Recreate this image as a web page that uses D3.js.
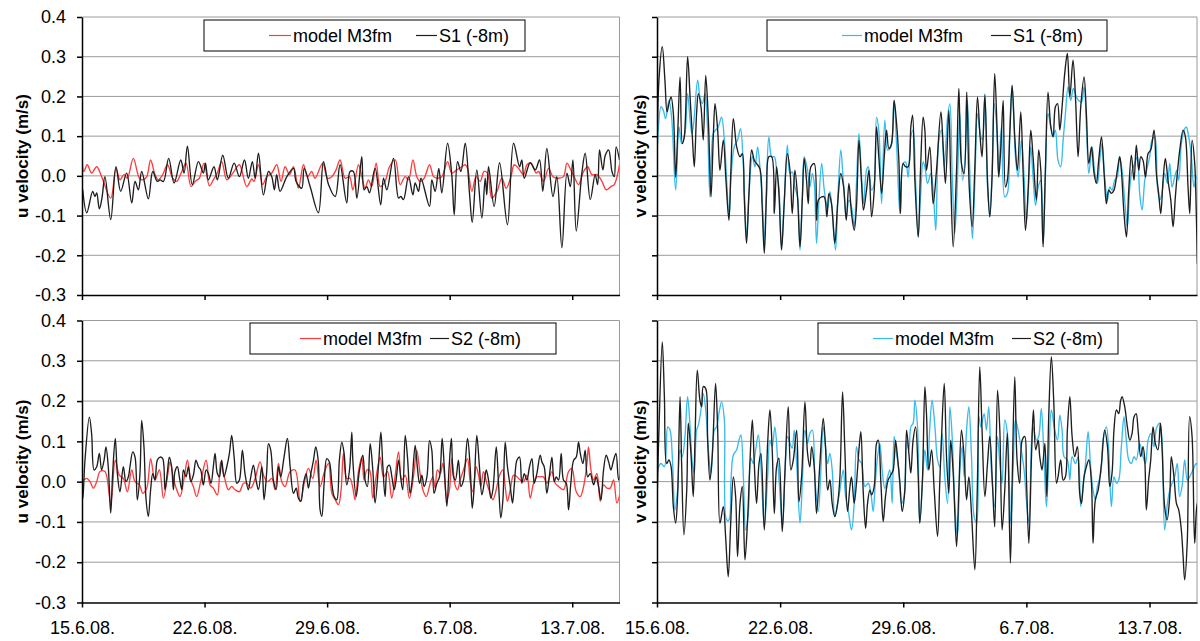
<!DOCTYPE html>
<html>
<head>
<meta charset="utf-8">
<script src="https://cdn.jsdelivr.net/npm/d3@7"></script>
<style>
  body { margin: 0; background: #fff; }
  svg { display: block; font-family: "Liberation Sans", Arial, sans-serif; }
  .grid line { stroke: #9a9a9a; stroke-width: 1; }
  .border { stroke: #9a9a9a; stroke-width: 1; fill: none; }
  .axis path, .axis line { stroke: #000; stroke-width: 1.5; }
  .axis text { font-size: 18px; fill: #000; font-family: "Liberation Sans", Arial, sans-serif; }
  .ytitle { font-size: 17px; font-weight: bold; }
  .legend text { font-size: 18px; }
  .series { fill: none; stroke-width: 1.35; stroke-linejoin: round; }
</style>
</head>
<body>
<svg id="chart" width="1200" height="641"></svg>
<script>
// time axis: days since 15.6.2008 00:00
const startDate = new Date(Date.UTC(2008, 5, 15));
const spanDays = 30.7;
const dateTicks = ["2008-06-15", "2008-06-22", "2008-06-29", "2008-07-06", "2008-07-13"];
const yTicks = [-0.3, -0.2, -0.1, 0.0, 0.1, 0.2, 0.3, 0.4];

// [day, m/s] readings
const u1Model = [[0,0.04],[0.11,0.011],[0.30,0.028],[0.55,0.007],[0.84,0.023],[1.12,-0.002],[1.64,-0.056],[1.94,0.019],[2.17,-0.01],[2.40,0.003],[2.59,-0.006],[2.93,0.044],[3.28,-0.006],[3.50,-0.01],[3.70,-0.002],[3.92,0.04],[4.17,0.003],[4.36,-0.01],[4.61,0.003],[4.88,0.028],[5.18,-0.006],[5.41,-0.014],[5.66,0.007],[5.94,0.032],[6.23,-0.027],[6.46,-0.014],[6.70,-0.006],[6.97,0.032],[7.28,-0.025],[7.50,-0.01],[7.73,0.007],[7.98,0.036],[8.27,-0.01],[8.55,0.003],[8.74,0.015],[8.99,0.028],[9.41,-0.027],[9.70,-0.008],[9.83,-0.014],[10.08,0.028],[10.32,-0.022],[10.55,-0.002],[10.84,0.007],[11.12,0.028],[11.37,-0.014],[11.60,0.023],[11.85,0.003],[12.08,0.023],[12.36,-0.031],[12.65,0.028],[12.88,-0.002],[13.12,0.011],[13.31,-0.006],[13.75,0.032],[14.02,-0.006],[14.27,-0.002],[14.51,0.015],[14.74,0.04],[15.03,-0.006],[15.28,-0.002],[15.47,-0.035],[15.79,0.028],[15.98,-0.002],[16.17,-0.031],[16.36,-0.01],[16.55,-0.027],[16.80,0.032],[17.03,-0.027],[17.31,-0.014],[17.56,0.023],[17.89,0.04],[18.17,-0.022],[18.46,-0.002],[18.65,-0.01],[18.90,0.04],[19.12,-0.002],[19.31,-0.014],[19.54,-0.006],[19.85,0.028],[20.08,-0.002],[20.30,-0.006],[20.55,-0.002],[20.88,0.036],[21.12,0.007],[21.41,0.015],[21.70,0.023],[21.89,0.028],[22.02,0.019],[22.27,-0.039],[22.51,-0.002],[22.74,-0.014],[22.97,0.011],[23.16,0.007],[23.41,-0.056],[23.70,-0.039],[23.98,-0.006],[24.23,-0.031],[24.50,-0.002],[24.69,0.028],[24.93,0.019],[25.22,0.003],[25.41,0.028],[25.64,0.032],[25.94,0.007],[26.08,0.011],[26.36,-0.014],[26.65,0.019],[26.90,-0.002],[27.22,-0.006],[27.50,-0.002],[27.70,0.032],[27.92,0.015],[28.11,-0.002],[28.36,-0.022],[28.65,0.011],[28.88,0.023],[29.12,0.003],[29.41,0.003],[29.70,-0.014],[29.94,-0.035],[30.21,-0.027],[30.40,-0.022],[30.70,0.028]];

const u1Obs = [[0.04,-0.035],[0.27,-0.093],[0.61,-0.039],[0.74,-0.052],[0.84,-0.043],[0.99,-0.083],[1.14,-0.056],[1.31,-0.002],[1.64,-0.11],[1.94,0.023],[2.21,-0.039],[2.55,0.007],[2.84,-0.068],[3.03,-0.014],[3.22,-0.035],[3.41,0.011],[3.79,-0.058],[4.04,0.011],[4.30,-0.014],[4.46,-0.01],[4.65,-0.014],[4.95,0.044],[5.26,-0.018],[5.64,0.04],[5.83,0.007],[6.02,0.075],[6.30,-0.022],[6.65,0.036],[6.93,0.007],[7.05,0.032],[7.22,-0.01],[7.54,0.023],[7.73,-0.01],[8.04,0.052],[8.36,-0.006],[8.69,0.032],[8.99,-0.002],[9.28,0.04],[9.50,-0.006],[9.73,0.036],[9.89,-0.006],[10.08,0.057],[10.36,-0.048],[10.65,0.011],[10.84,-0.002],[10.99,-0.035],[11.12,0.003],[11.31,-0.039],[11.70,-0.002],[12.08,0.019],[12.23,-0.014],[12.55,-0.031],[12.69,0.019],[13.03,-0.027],[13.50,-0.093],[13.79,0.036],[14.08,-0.022],[14.46,-0.052],[14.74,0.028],[15.12,-0.068],[15.31,0.011],[15.50,0.011],[15.70,-0.056],[15.98,0.048],[16.11,-0.035],[16.27,-0.027],[16.42,-0.043],[16.74,0.019],[17.06,-0.073],[17.22,-0.006],[17.41,-0.035],[17.79,0.044],[18.08,-0.056],[18.21,-0.052],[18.36,-0.06],[18.65,-0.002],[18.90,-0.048],[19.03,-0.018],[19.22,-0.039],[19.36,-0.006],[19.85,-0.077],[19.98,-0.01],[20.17,-0.039],[20.38,0.019],[20.55,-0.043],[20.88,0.082],[21.12,0.003],[21.26,-0.098],[21.45,0.036],[21.64,0.011],[21.89,0.082],[22.13,-0.043],[22.29,-0.117],[22.55,0.015],[22.84,-0.106],[23.03,-0.006],[23.12,-0.048],[23.22,0.023],[23.54,-0.077],[23.85,0.033],[24.30,-0.123],[24.65,0.082],[24.99,0.023],[25.12,0.04],[25.26,-0.006],[25.60,0.033],[25.89,0.015],[26.13,0.04],[26.32,-0.039],[26.55,0.069],[26.90,-0.052],[27.12,-0.002],[27.41,-0.181],[27.70,0.007],[27.89,-0.027],[28.04,0.04],[28.23,-0.139],[28.55,0.007],[28.74,0.057],[29.03,-0.06],[29.31,0.003],[29.45,-0.022],[29.56,0.065],[29.75,0.015],[29.89,0.052],[30.08,0.065],[30.27,0.011],[30.40,-0.002],[30.51,0.073],[30.70,0.04]];

const v1Model = [[0,0.031],[0.04,0.09],[0.23,0.174],[0.36,0.165],[0.49,0.144],[0.68,0.19],[0.83,0.148],[1.06,-0.036],[1.25,0.123],[1.40,0.081],[1.59,0.107],[1.74,0.207],[1.97,0.107],[2.06,0.123],[2.31,0.241],[2.44,0.199],[2.58,0.182],[2.73,0.207],[2.88,0.115],[3.01,-0.053],[3.20,0.107],[3.33,0.115],[3.48,0.123],[3.67,0.148],[3.83,0.09],[3.96,-0.011],[4.09,-0.103],[4.20,-0.011],[4.39,0.073],[4.58,0.09],[4.75,0.119],[4.91,0.023],[5.09,-0.154],[5.23,-0.044],[5.42,0.048],[5.57,0.023],[5.72,0.073],[5.85,0.023],[5.98,-0.061],[6.10,-0.17],[6.23,-0.011],[6.36,0.098],[6.52,0.048],[6.67,0.048],[6.80,0.014],[6.93,-0.028],[7.08,-0.179],[7.23,-0.07],[7.41,0.077],[7.56,0.006],[7.69,0.01],[7.84,-0.028],[7.99,-0.053],[8.13,-0.187],[8.26,-0.053],[8.37,0.048],[8.56,0.014],[8.69,-0.028],[8.83,0.006],[8.94,-0.019],[9.07,-0.17],[9.17,-0.095],[9.36,0.031],[9.51,-0.036],[9.70,-0.082],[9.83,-0.04],[9.96,-0.086],[10.15,-0.187],[10.30,-0.036],[10.45,0.065],[10.59,-0.011],[10.76,-0.103],[10.91,-0.061],[11.06,-0.078],[11.21,-0.128],[11.34,-0.019],[11.48,0.107],[11.63,-0.003],[11.74,-0.07],[11.91,0.014],[12.01,0.023],[12.20,-0.036],[12.35,-0.019],[12.48,0.148],[12.61,0.115],[12.77,-0.07],[12.95,0.14],[13.11,0.065],[13.30,0.073],[13.48,0.19],[13.62,0.081],[13.81,-0.095],[13.99,0.031],[14.13,0.035],[14.28,-0.003],[14.43,0.098],[14.56,0.115],[14.70,-0.011],[14.85,-0.154],[14.98,-0.053],[15.13,0.035],[15.23,0.023],[15.38,-0.019],[15.57,0.006],[15.70,-0.036],[15.85,-0.137],[16.02,0.09],[16.17,0.115],[16.33,0.023],[16.52,0.148],[16.65,0.182],[16.78,0.006],[16.93,-0.145],[17.08,-0.011],[17.22,0.157],[17.37,-0.011],[17.50,0.031],[17.65,0.19],[17.78,0.014],[17.93,-0.158],[18.07,-0.019],[18.22,0.157],[18.37,0.107],[18.50,0.09],[18.64,0.207],[18.79,-0.028],[18.92,-0.103],[19.05,0.014],[19.17,0.182],[19.30,0.132],[19.43,0.006],[19.58,0.123],[19.77,-0.053],[19.92,-0.044],[20.06,0.123],[20.19,0.228],[20.38,0.048],[20.53,-0.003],[20.72,0.09],[20.87,-0.003],[21.00,-0.12],[21.14,-0.011],[21.25,0.073],[21.38,-0.003],[21.52,-0.074],[21.67,-0.028],[21.82,-0.011],[21.95,-0.17],[22.08,-0.003],[22.23,0.157],[22.39,0.123],[22.52,0.098],[22.65,0.115],[22.80,0.039],[22.95,0.023],[23.09,0.09],[23.22,0.157],[23.37,0.224],[23.52,0.19],[23.67,0.22],[23.84,0.199],[23.97,0.19],[24.13,0.186],[24.28,0.224],[24.43,0.107],[24.55,0.006],[24.74,0.073],[24.89,0.006],[25.04,-0.019],[25.17,0.039],[25.30,0.081],[25.45,-0.003],[25.61,-0.061],[25.74,-0.028],[25.87,-0.036],[26.02,-0.011],[26.17,-0.003],[26.29,0.048],[26.44,0.014],[26.59,-0.061],[26.74,-0.128],[26.88,-0.028],[27.01,0.014],[27.16,0.031],[27.31,0.048],[27.44,-0.044],[27.58,-0.086],[27.73,-0.011],[27.88,0.023],[28.01,0.048],[28.14,0.09],[28.30,0.098],[28.45,-0.028],[28.58,-0.061],[28.71,-0.044],[28.86,0.006],[29.02,-0.019],[29.15,0.031],[29.28,-0.028],[29.43,-0.003],[29.55,0.014],[29.66,-0.011],[29.81,0.081],[29.96,0.115],[30.09,0.123],[30.23,0.098],[30.38,0.048],[30.53,-0.028],[30.66,-0.003],[30.76,-0.011]];

const v1Obs = [[0,0.048],[0.11,0.241],[0.30,0.325],[0.45,0.241],[0.57,0.161],[0.68,0.182],[0.80,0.199],[0.93,0.157],[1.06,-0.003],[1.17,0.098],[1.31,0.249],[1.44,0.081],[1.55,0.098],[1.74,0.3],[1.88,0.199],[2.01,0.098],[2.12,0.023],[2.25,0.157],[2.35,0.207],[2.50,0.174],[2.63,0.09],[2.77,0.253],[2.92,0.14],[3.07,-0.053],[3.20,0.098],[3.30,0.182],[3.45,0.115],[3.58,0.014],[3.77,0.09],[3.92,-0.011],[4.09,-0.112],[4.20,0.014],[4.34,0.144],[4.53,0.073],[4.72,0.048],[4.85,0.056],[4.96,-0.053],[5.09,-0.17],[5.23,-0.044],[5.38,0.065],[5.53,0.039],[5.66,0.031],[5.85,0.018],[5.98,-0.078],[6.10,-0.195],[6.23,-0.044],[6.36,0.048],[6.52,0.048],[6.67,-0.095],[6.80,0.023],[6.93,-0.044],[7.08,-0.187],[7.23,-0.07],[7.41,0.056],[7.56,0.014],[7.69,-0.095],[7.84,0.014],[7.99,-0.053],[8.13,-0.179],[8.26,-0.061],[8.37,0.044],[8.50,-0.011],[8.60,-0.07],[8.75,0.023],[8.94,0.031],[9.07,-0.112],[9.17,-0.061],[9.36,-0.053],[9.51,-0.053],[9.66,-0.103],[9.77,-0.044],[9.92,-0.07],[10.11,-0.17],[10.27,-0.07],[10.45,0.006],[10.61,-0.028],[10.76,-0.112],[10.91,-0.019],[11.06,-0.095],[11.21,-0.137],[11.34,-0.078],[11.48,0.09],[11.63,-0.019],[11.74,-0.086],[11.91,-0.036],[12.05,0.014],[12.20,-0.103],[12.35,-0.036],[12.48,0.123],[12.61,0.048],[12.77,-0.044],[12.92,0.048],[13.05,0.115],[13.18,0.069],[13.33,0.081],[13.48,0.19],[13.62,0.132],[13.75,0.039],[13.84,-0.095],[13.99,0.031],[14.13,0.023],[14.28,0.023],[14.43,0.123],[14.53,0.153],[14.66,-0.011],[14.85,-0.154],[14.98,0.014],[15.13,0.148],[15.23,0.115],[15.32,0.014],[15.51,0.073],[15.70,-0.07],[15.89,0.014],[16.14,0.161],[16.27,0.073],[16.40,-0.019],[16.59,0.165],[16.70,-0.011],[16.84,-0.179],[17.03,0.014],[17.16,0.22],[17.31,0.031],[17.46,0.006],[17.61,0.211],[17.75,-0.028],[17.92,-0.128],[18.07,0.023],[18.22,0.199],[18.37,0.098],[18.48,0.048],[18.64,0.203],[18.79,-0.011],[18.92,-0.103],[19.05,-0.003],[19.20,0.258],[19.36,0.081],[19.43,-0.003],[19.55,0.073],[19.68,0.19],[19.81,-0.028],[19.92,-0.011],[20.06,0.107],[20.19,0.228],[20.34,0.098],[20.49,0.014],[20.68,0.161],[20.81,0.014],[20.95,-0.137],[21.10,-0.036],[21.25,0.115],[21.38,0.048],[21.57,-0.061],[21.70,0.065],[21.82,0.014],[21.95,-0.179],[22.08,0.014],[22.23,0.211],[22.39,0.123],[22.52,0.098],[22.65,0.174],[22.77,0.182],[22.90,0.115],[23.03,0.174],[23.18,0.258],[23.33,0.308],[23.47,0.199],[23.65,0.291],[23.79,0.199],[23.94,0.048],[24.09,0.174],[24.28,0.249],[24.41,0.157],[24.55,0.031],[24.70,0.073],[24.85,0.006],[24.98,-0.019],[25.11,0.039],[25.27,0.098],[25.42,0.006],[25.55,-0.07],[25.68,-0.036],[25.83,-0.044],[25.98,-0.036],[26.17,0.014],[26.31,0.048],[26.40,0.014],[26.55,-0.095],[26.69,-0.154],[26.82,-0.036],[26.97,0.052],[27.12,-0.011],[27.25,0.077],[27.39,0.014],[27.50,0.048],[27.63,0.039],[27.77,-0.003],[27.92,0.056],[28.07,0.065],[28.26,0.115],[28.39,0.006],[28.52,-0.044],[28.64,-0.095],[28.77,-0.011],[28.90,0.044],[29.05,-0.011],[29.21,-0.061],[29.34,-0.128],[29.47,-0.053],[29.58,0.006],[29.72,0.065],[29.91,0.115],[30.04,0.098],[30.19,-0.028],[30.29,-0.095],[30.42,0.09],[30.57,0.031],[30.66,-0.095],[30.72,-0.221]];

const u2Model = [[0,0.066],[0.04,0.004],[0.27,0.008],[0.46,0],[0.65,-0.016],[0.84,0],[1.03,0.025],[1.31,0.025],[1.64,-0.053],[1.90,0.053],[2.13,0.016],[2.36,0.008],[2.59,-0.025],[2.84,0.029],[3.03,0],[3.28,-0.008],[3.47,-0.029],[3.70,-0.016],[3.92,0.057],[4.17,0.004],[4.42,0.029],[4.65,-0.041],[4.88,0.012],[5.03,0.049],[5.22,0.008],[5.41,-0.02],[5.60,-0.037],[5.83,0.008],[6.02,0.053],[6.21,0.004],[6.36,-0.012],[6.55,-0.037],[6.78,0],[7.09,0.053],[7.31,-0.008],[7.50,-0.016],[7.73,-0.033],[7.92,0.049],[8.11,0.016],[8.36,-0.02],[8.55,-0.012],[8.74,-0.02],[8.99,-0.025],[9.22,-0.004],[9.41,-0.004],[9.64,-0.016],[9.89,0.008],[10.17,0.049],[10.40,0.012],[10.61,0],[10.84,0.008],[11.03,-0.02],[11.22,0.045],[11.41,0],[11.60,-0.012],[11.89,0.025],[12.17,0.029],[12.46,-0.049],[12.69,-0.004],[12.93,0.033],[13.18,0.008],[13.37,0.053],[13.60,-0.012],[13.85,0.025],[14.08,0.045],[14.27,-0.029],[14.46,-0.045],[14.65,-0.057],[14.80,-0.02],[14.93,0.07],[15.12,0.008],[15.31,0.008],[15.47,-0.016],[15.60,-0.045],[15.79,0.025],[15.98,0.061],[16.11,0.004],[16.27,0.029],[16.42,0.029],[16.61,-0.041],[16.80,0.012],[17.03,0.061],[17.22,0.012],[17.45,0.025],[17.69,-0.041],[17.89,0.016],[18.08,0.074],[18.27,0.004],[18.46,0.016],[18.70,-0.041],[18.93,0.012],[19.12,0.078],[19.31,0.02],[19.47,-0.02],[19.66,-0.037],[19.89,-0.004],[20.04,0.012],[20.17,-0.016],[20.30,0.029],[20.46,0.02],[20.61,0.045],[20.84,-0.045],[20.99,-0.02],[21.12,0.057],[21.31,-0.008],[21.45,-0.02],[21.60,0.004],[21.79,0.029],[22.02,0.057],[22.17,0],[22.32,-0.025],[22.51,0.037],[22.65,0.016],[22.78,-0.012],[22.93,0.025],[23.12,-0.004],[23.28,-0.025],[23.47,-0.045],[23.66,-0.02],[23.85,0.016],[24.04,0.029],[24.17,-0.012],[24.30,-0.049],[24.46,-0.02],[24.65,0.016],[24.84,0.012],[25.03,0.004],[25.22,0],[25.41,0.016],[25.60,-0.041],[25.79,-0.004],[25.98,0.012],[26.17,0.012],[26.36,0.012],[26.55,-0.004],[26.84,0.025],[27.03,-0.004],[27.22,-0.012],[27.50,-0.02],[27.79,0.025],[27.98,0.033],[28.23,-0.025],[28.46,-0.037],[28.65,-0.012],[28.84,0.045],[28.93,0.086],[29.07,0.029],[29.22,0.004],[29.41,0.02],[29.60,-0.049],[29.79,-0.008],[29.98,-0.016],[30.17,-0.016],[30.36,0.004],[30.55,-0.053],[30.74,-0.029],[30.97,0.033]];

const u2Obs = [[0,-0.045],[0.04,-0.041],[0.17,0.053],[0.42,0.16],[0.55,0.119],[0.69,0.029],[0.84,0.037],[0.99,0.07],[1.12,0.029],[1.26,0.053],[1.37,0.086],[1.50,0.037],[1.64,-0.078],[1.75,0.02],[1.90,0.107],[2.02,0.02],[2.17,-0.025],[2.36,0.037],[2.51,0],[2.65,0.012],[2.74,0.037],[2.90,0.074],[3.03,0.061],[3.16,-0.045],[3.31,0.02],[3.41,0.152],[3.54,0.086],[3.66,-0.045],[3.79,-0.086],[3.92,-0.02],[4.04,0.02],[4.17,0.004],[4.30,0.053],[4.46,0.061],[4.61,0.057],[4.74,-0.02],[4.88,0.025],[4.99,0.061],[5.12,0.037],[5.22,-0.02],[5.31,0.025],[5.45,0.037],[5.56,0.012],[5.70,-0.02],[5.79,0.029],[5.94,0.012],[6.08,0.037],[6.21,0],[6.36,0.016],[6.51,0.053],[6.65,0.037],[6.78,0.029],[6.93,-0.008],[7.09,0.029],[7.22,0.02],[7.37,-0.004],[7.50,0.037],[7.60,0.07],[7.73,0.02],[7.85,0.012],[7.98,0.053],[8.11,0.012],[8.27,0.037],[8.42,0.07],[8.55,0.115],[8.69,0.061],[8.84,-0.004],[8.99,0.004],[9.16,0.078],[9.31,0.02],[9.50,-0.02],[9.64,0.012],[9.79,0.041],[9.94,0.004],[10.08,-0.02],[10.27,0.037],[10.40,-0.045],[10.55,0.025],[10.65,0.094],[10.78,0.078],[10.93,0.004],[11.09,-0.02],[11.22,0.037],[11.35,0.012],[11.54,0.061],[11.73,0.107],[11.89,0.037],[12.08,-0.029],[12.23,-0.016],[12.36,-0.041],[12.50,-0.049],[12.65,-0.004],[12.80,0.02],[12.93,-0.016],[13.07,0.02],[13.22,0.053],[13.35,0.086],[13.49,0.053],[13.60,-0.07],[13.70,-0.086],[13.83,-0.004],[13.98,0.057],[14.13,0.049],[14.27,-0.004],[14.40,-0.037],[14.55,-0.045],[14.70,0.053],[14.84,0.098],[14.97,0.07],[15.12,-0.008],[15.28,0.029],[15.41,0.123],[15.47,0.053],[15.66,-0.037],[15.85,0.029],[16.04,0.066],[16.17,0.004],[16.30,-0.012],[16.46,0.094],[16.61,0.029],[16.74,-0.053],[16.93,0.037],[17.07,0.123],[17.18,0.041],[17.31,-0.037],[17.45,0.037],[17.56,0.041],[17.70,0.012],[17.83,-0.02],[17.94,0.004],[18.08,0.053],[18.21,0.008],[18.32,-0.02],[18.46,0.115],[18.59,0.061],[18.74,-0.029],[18.84,-0.004],[19.03,0.09],[19.16,0.033],[19.28,-0.004],[19.41,0.016],[19.54,-0.012],[19.70,0.012],[19.85,0.102],[19.98,0.078],[20.11,-0.029],[20.27,-0.004],[20.42,0.012],[20.57,0.107],[20.69,0.037],[20.84,-0.061],[20.97,0.037],[21.10,0.107],[21.22,0.012],[21.33,0.004],[21.50,0.053],[21.64,-0.012],[21.79,0.004],[22.02,0.107],[22.17,0.037],[22.29,-0.066],[22.40,-0.012],[22.55,0.115],[22.70,0.037],[22.84,-0.033],[22.97,-0.004],[23.09,0.029],[23.22,0.004],[23.35,-0.041],[23.47,-0.02],[23.66,0.086],[23.79,-0.004],[23.92,-0.09],[24.04,-0.045],[24.17,0.098],[24.30,0.037],[24.46,-0.012],[24.59,-0.053],[24.70,-0.004],[24.84,0.053],[24.99,0.061],[25.12,-0.004],[25.26,0.02],[25.41,0.004],[25.56,0.037],[25.70,0.057],[25.83,-0.004],[25.98,0.02],[26.17,0.066],[26.27,0.049],[26.40,0.037],[26.55,-0.029],[26.70,0.016],[26.84,0.061],[26.97,0],[27.09,0.012],[27.22,0.004],[27.37,0.07],[27.50,0.004],[27.66,-0.004],[27.79,-0.07],[27.92,-0.004],[28.08,0.053],[28.23,0.061],[28.36,0.098],[28.46,0.07],[28.61,0.045],[28.74,0.078],[28.88,0.012],[29.03,0.02],[29.22,-0.008],[29.37,0.012],[29.50,-0.012],[29.64,-0.045],[29.79,0.029],[29.94,0.066],[30.08,0.049],[30.21,0.029],[30.36,0.053],[30.50,0.07],[30.65,0.004],[30.84,0.045],[30.97,0.107]];

const v2Model = [[0,-0.07],[0.04,0.029],[0.23,0.045],[0.42,0.037],[0.61,0.136],[0.74,0.128],[0.87,0.062],[1.02,-0.07],[1.17,-0.021],[1.31,0.079],[1.44,0.062],[1.59,0.112],[1.74,0.211],[1.88,0.136],[2.01,0.045],[2.12,0.021],[2.25,0.128],[2.35,0.14],[2.50,0.178],[2.63,0.219],[2.77,0.178],[2.92,0.079],[3.07,0.021],[3.26,0.128],[3.39,0.136],[3.52,0.169],[3.67,0.198],[3.83,0.153],[3.96,-0.095],[4.09,-0.095],[4.20,-0.004],[4.34,0.066],[4.53,0.079],[4.66,0.103],[4.77,0.116],[4.91,0.012],[5.04,-0.12],[5.19,-0.079],[5.34,0.058],[5.47,0.045],[5.61,0.079],[5.76,0.116],[5.91,0.037],[6.10,-0.112],[6.29,0.012],[6.42,0.103],[6.55,0.087],[6.70,0.136],[6.86,0.054],[6.99,-0.029],[7.14,-0.107],[7.27,0.012],[7.42,0.112],[7.56,0.095],[7.69,0.083],[7.80,0.128],[7.94,0.045],[8.13,-0.103],[8.26,-0.004],[8.41,0.128],[8.56,0.095],[8.69,0.12],[8.83,0.128],[8.98,0.004],[9.17,-0.074],[9.30,0.012],[9.45,0.136],[9.58,0.087],[9.70,0.045],[9.83,0.07],[9.96,0.029],[10.11,-0.087],[10.27,-0.054],[10.40,-0.021],[10.59,0.029],[10.72,-0.037],[10.87,-0.07],[11.06,-0.12],[11.21,-0.054],[11.34,0.087],[11.48,0.054],[11.63,0.045],[11.82,-0.012],[12.01,-0.004],[12.16,-0.029],[12.29,-0.074],[12.42,0.004],[12.54,0.062],[12.67,0.095],[12.80,0.029],[12.95,-0.017],[13.11,0.012],[13.24,0.029],[13.37,-0.054],[13.48,0.112],[13.62,0.07],[13.75,0.029],[13.90,-0.054],[14.05,-0.037],[14.19,0.103],[14.32,0.079],[14.43,0.136],[14.56,0.145],[14.66,0.202],[14.81,0.136],[14.94,-0.103],[15.13,0.029],[15.23,0.079],[15.38,0.029],[15.51,0.136],[15.64,0.202],[15.80,0.136],[15.95,0.054],[16.08,0.037],[16.21,0.12],[16.36,0.012],[16.52,-0.054],[16.65,0.186],[16.78,0.112],[16.93,-0.054],[17.08,-0.136],[17.22,0.029],[17.35,0.087],[17.46,0.012],[17.60,0.128],[17.73,0.186],[17.88,0.062],[18.03,-0.087],[18.18,-0.103],[18.30,0.161],[18.41,0.136],[18.60,0.169],[18.73,0.128],[18.86,0.186],[19.02,0.021],[19.20,-0.062],[19.36,0.112],[19.49,0.045],[19.62,-0.004],[19.77,0.153],[19.92,0.12],[20.11,-0.103],[20.25,0.037],[20.38,0.153],[20.53,0.128],[20.68,0.087],[20.87,0.029],[21.00,-0.045],[21.14,-0.103],[21.29,0.095],[21.38,0.136],[21.57,0.103],[21.70,0.112],[21.85,0.182],[22.00,0.062],[22.14,-0.062],[22.27,0.054],[22.42,0.178],[22.61,0.128],[22.77,0.103],[22.90,0.165],[23.03,0.128],[23.14,0.062],[23.33,0.054],[23.47,0.004],[23.60,0.062],[23.79,0.045],[23.94,0.062],[24.09,-0.062],[24.22,-0.012],[24.36,0.045],[24.51,0.124],[24.64,0.045],[24.79,-0.021],[24.92,-0.045],[25.04,-0.012],[25.23,0.021],[25.36,0.103],[25.55,0.136],[25.68,0.079],[25.83,-0.062],[25.98,0.012],[26.12,-0.004],[26.25,0.004],[26.40,0.087],[26.55,0.161],[26.68,0.103],[26.82,0.054],[26.97,0.045],[27.12,0.062],[27.25,0.054],[27.44,0.095],[27.63,0.062],[27.77,0.045],[27.92,0.103],[28.07,0.12],[28.26,0.087],[28.39,0.132],[28.58,0.145],[28.71,0.103],[28.86,-0.12],[29.02,-0.054],[29.15,-0.021],[29.28,-0.004],[29.43,0.012],[29.58,0.045],[29.71,-0.037],[29.85,-0.012],[30.00,0.054],[30.15,0.004],[30.28,0.012],[30.47,0.029],[30.66,0.045],[30.85,0.004]];

const v2Obs = [[0,-0.054],[0.11,0.128],[0.30,0.347],[0.42,0.211],[0.55,0.045],[0.68,0.054],[0.80,0.037],[0.93,-0.062],[1.06,-0.103],[1.17,-0.037],[1.31,0.211],[1.40,0.045],[1.53,-0.132],[1.69,-0.021],[1.78,0.145],[1.93,0.07],[2.06,-0.037],[2.16,0.103],[2.29,0.277],[2.44,0.202],[2.54,0.186],[2.63,0.236],[2.77,0.231],[2.88,0.103],[3.01,0.004],[3.14,0.062],[3.33,0.244],[3.45,0.128],[3.58,-0.103],[3.77,-0.062],[3.90,-0.136],[4.05,-0.236],[4.19,-0.103],[4.34,0.012],[4.47,-0.037],[4.58,-0.186],[4.72,-0.054],[4.85,-0.012],[5.00,-0.194],[5.15,-0.095],[5.28,0.045],[5.42,0.153],[5.53,0.045],[5.66,-0.054],[5.80,0.045],[5.91,0.07],[6.10,-0.12],[6.29,0.095],[6.42,0.178],[6.55,0.079],[6.67,-0.079],[6.80,0.037],[6.93,0.058],[7.12,-0.124],[7.27,0.021],[7.46,0.186],[7.61,0.029],[7.75,0.054],[7.94,0.128],[8.07,-0.05],[8.22,0.012],[8.41,0.198],[8.56,0.07],[8.69,0.037],[8.79,0.087],[8.94,0.037],[9.07,-0.079],[9.26,0.045],[9.45,0.157],[9.58,0.087],[9.70,-0.021],[9.83,0.004],[9.96,-0.054],[10.11,-0.087],[10.27,-0.054],[10.40,0.012],[10.55,0.223],[10.68,0.079],[10.83,-0.074],[10.97,-0.012],[11.06,0.012],[11.21,-0.054],[11.34,-0.004],[11.48,0.079],[11.59,0.124],[11.72,-0.021],[11.86,-0.116],[11.97,-0.054],[12.10,-0.021],[12.20,-0.033],[12.35,-0.012],[12.48,0.095],[12.58,0.103],[12.73,-0.004],[12.86,-0.099],[12.99,-0.037],[13.14,0.004],[13.30,0.017],[13.43,0.029],[13.56,0.103],[13.67,0.062],[13.81,-0.004],[13.94,-0.074],[14.09,-0.021],[14.19,0.128],[14.32,0.07],[14.43,0.021],[14.56,0.103],[14.70,0.136],[14.85,0.012],[14.94,-0.103],[15.09,0.004],[15.23,0.236],[15.32,0.169],[15.45,0.029],[15.61,0.079],[15.76,-0.021],[15.95,-0.136],[16.08,0.004],[16.17,0.103],[16.33,0.244],[16.46,0.062],[16.59,-0.029],[16.70,0.103],[16.84,0.021],[17.03,-0.161],[17.16,-0.021],[17.31,0.128],[17.46,0.062],[17.60,-0.045],[17.73,0.012],[17.88,-0.079],[18.07,-0.219],[18.20,-0.037],[18.35,0.285],[18.48,0.128],[18.64,-0.037],[18.79,0.045],[18.92,0.112],[19.07,-0.004],[19.20,-0.112],[19.36,0.227],[19.49,0.128],[19.62,-0.12],[19.77,-0.021],[19.92,0.12],[20.09,-0.202],[20.19,-0.004],[20.34,0.26],[20.47,0.054],[20.62,-0.004],[20.76,0.103],[20.91,0.112],[21.00,0.012],[21.14,-0.153],[21.29,0.062],[21.40,0.178],[21.53,0.079],[21.67,0.103],[21.76,0.062],[21.89,0.029],[22.05,0.095],[22.16,-0.037],[22.27,0.161],[22.42,0.31],[22.56,0.194],[22.71,-0.004],[22.80,0.012],[22.95,0.054],[23.09,0.004],[23.22,0.012],[23.33,0.128],[23.47,0.211],[23.60,0.112],[23.75,0.062],[23.90,0.087],[24.03,-0.029],[24.13,-0.054],[24.28,0.012],[24.41,0.037],[24.55,0.054],[24.70,-0.004],[24.79,-0.153],[24.92,-0.045],[25.08,-0.021],[25.27,0.045],[25.45,0.128],[25.61,0.087],[25.74,-0.012],[25.87,0.021],[25.98,0.128],[26.12,0.178],[26.25,0.169],[26.36,0.202],[26.44,0.211],[26.59,0.186],[26.74,0.136],[26.88,0.103],[27.01,0.12],[27.12,0.161],[27.24,0.169],[27.35,0.128],[27.50,0.062],[27.63,0.087],[27.73,0.054],[27.82,-0.07],[27.95,0.004],[28.07,0.054],[28.20,0.136],[28.33,0.095],[28.48,0.079],[28.62,0.145],[28.71,0.087],[28.86,-0.062],[29.00,-0.095],[29.15,-0.037],[29.24,0.062],[29.39,0.012],[29.53,-0.054],[29.66,-0.07],[29.81,-0.12],[29.91,-0.186],[30.00,-0.244],[30.15,-0.145],[30.28,0.161],[30.42,0.112],[30.57,-0.153],[30.72,-0.054],[30.85,-0.045]];

const red = "#ff3c3c", blue = "#38bbed", black = "#1e1e1e";

const panels = [
  { x0: 82, x1: 619.5, y0: 17, y1: 295, title: "u velocity (m/s)", titleX: 22, yLabels: true, xLabels: false,
    model: u1Model, obs: u1Obs, color: red, obsName: "S1 (-8m)",
    legend: { x: 204, y: 20, w: 321, h: 31, items: [[269, 293], [416, 439]] } },
  { x0: 657, x1: 1197, y0: 17, y1: 295, title: "v velocity (m/s)", titleX: 640, yLabels: false, xLabels: false,
    model: v1Model, obs: v1Obs, color: blue, obsName: "S1 (-8m)",
    legend: { x: 767, y: 20, w: 340, h: 31, items: [[842, 864], [991, 1013]] } },
  { x0: 82, x1: 619.5, y0: 320.5, y1: 602.5, title: "u velocity (m/s)", titleX: 22, yLabels: true, xLabels: true,
    model: u2Model, obs: u2Obs, color: red, obsName: "S2 (-8m)",
    legend: { x: 250, y: 323, w: 306, h: 31, items: [[300, 323], [430, 451]] } },
  { x0: 657, x1: 1197, y0: 320.5, y1: 602.5, title: "v velocity (m/s)", titleX: 640, yLabels: false, xLabels: true,
    model: v2Model, obs: v2Obs, color: blue, obsName: "S2 (-8m)",
    legend: { x: 818, y: 323, w: 300, h: 31, items: [[873, 895], [1012, 1033]] } }
];

const svg = d3.select("#chart");
const toDate = d => new Date(startDate.getTime() + d * 864e5);
const endDate = toDate(spanDays);
const fmtDate = d3.utcFormat("%-d.%-m.%y.");

panels.forEach((p, i) => {
  const x = d3.scaleUtc().domain([startDate, endDate]).range([p.x0, p.x1]);
  const y = d3.scaleLinear().domain([-0.3, 0.4]).range([p.y1, p.y0]);

  const g = svg.append("g");

  g.append("clipPath").attr("id", "clip" + i)
    .append("rect").attr("x", p.x0).attr("y", p.y0 - 2)
    .attr("width", p.x1 - p.x0).attr("height", p.y1 - p.y0 + 2);

  // gridlines
  g.append("g").attr("class", "grid")
    .selectAll("line").data(yTicks.filter(t => t > -0.3))
    .join("line")
    .attr("x1", p.x0).attr("x2", p.x1)
    .attr("y1", d => y(d)).attr("y2", d => y(d));

  g.append("line").attr("class", "border")
    .attr("x1", p.x1).attr("x2", p.x1).attr("y1", p.y0).attr("y2", p.y1);

  const line = d3.line()
    .x(d => x(toDate(d[0])))
    .y(d => y(d[1]))
    .curve(d3.curveCatmullRom.alpha(0.5));

  const plot = g.append("g").attr("clip-path", `url(#clip${i})`);
  plot.append("path").datum(p.model).attr("class", "series")
    .attr("stroke", p.color).attr("d", line);
  plot.append("path").datum(p.obs).attr("class", "series")
    .attr("stroke", black).attr("d", line);

  // axes
  g.append("g").attr("class", "axis")
    .attr("transform", `translate(${p.x0},0)`)
    .call(d3.axisLeft(y).tickValues(yTicks).tickSize(5).tickSizeOuter(0).tickPadding(11)
      .tickFormat(p.yLabels ? (d => d.toFixed(1)) : ""));

  g.append("g").attr("class", "axis")
    .attr("transform", `translate(0,${p.y1})`)
    .call(d3.axisBottom(x).tickValues(dateTicks.map(s => new Date(s + "T00:00:00Z")))
      .tickSize(5).tickSizeOuter(0).tickPadding(14)
      .tickFormat(p.xLabels ? fmtDate : ""));

  g.append("text").attr("class", "ytitle")
    .attr("transform", `translate(${p.titleX},${(p.y0 + p.y1) / 2}) rotate(-90)`)
    .attr("text-anchor", "middle").attr("dy", "0.35em")
    .text(p.title);

  // legend
  const L = p.legend;
  const lg = g.append("g").attr("class", "legend");
  lg.append("rect").attr("x", L.x).attr("y", L.y).attr("width", L.w).attr("height", L.h)
    .attr("fill", "#fff").attr("stroke", "#000").attr("stroke-width", 1);
  const cy = L.y + L.h / 2;
  [["model M3fm", p.color], [p.obsName, black]].forEach((e, k) => {
    const [lx, tx] = L.items[k];
    lg.append("line").attr("x1", lx).attr("x2", tx - 2).attr("y1", cy).attr("y2", cy)
      .attr("stroke", e[1]).attr("stroke-width", 1.2);
    lg.append("text").attr("x", tx).attr("y", cy).attr("dy", "0.35em").text(e[0]);
  });
});
</script>
</body>
</html>
